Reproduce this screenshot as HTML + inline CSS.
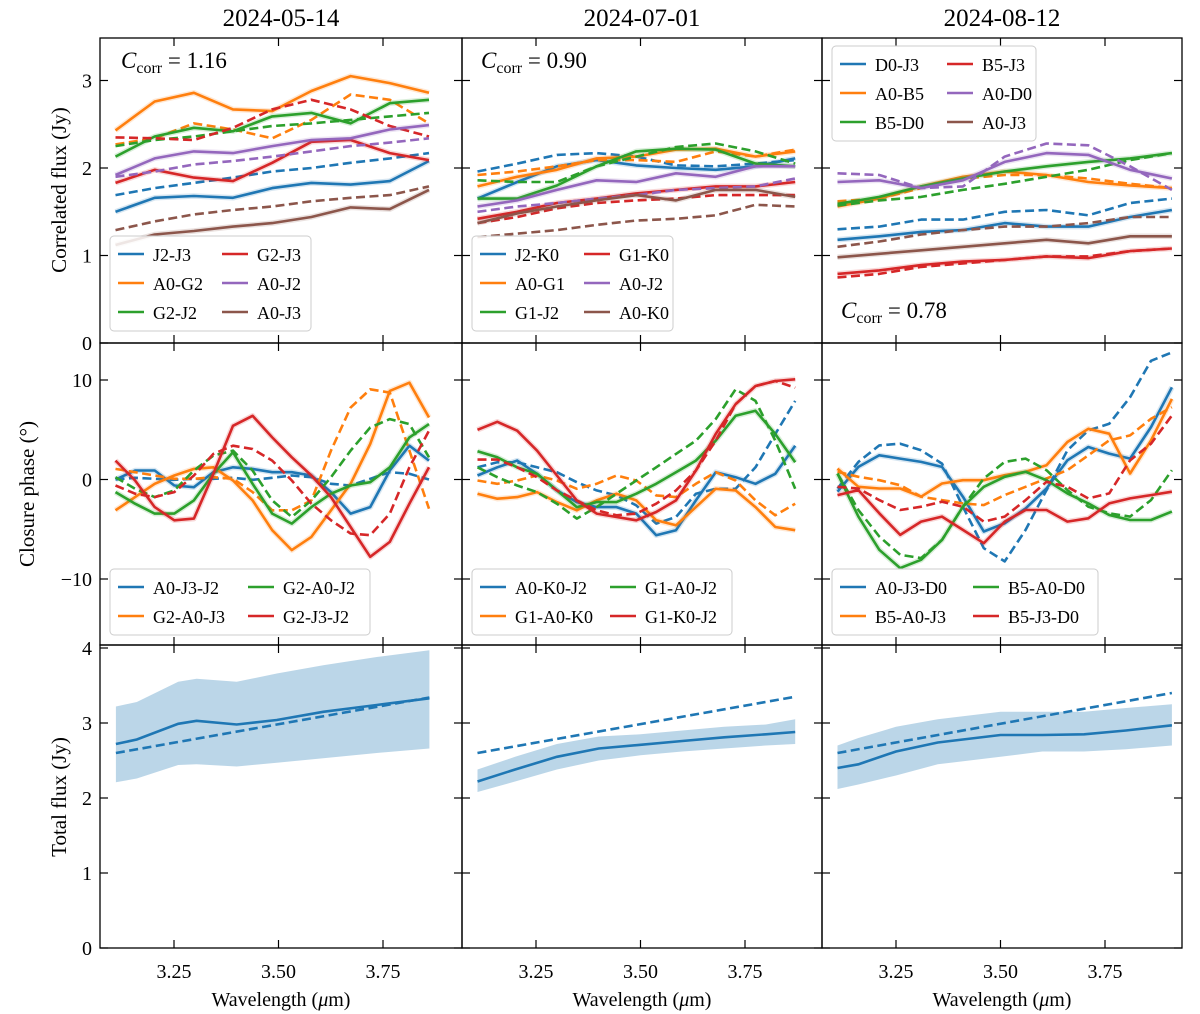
<!DOCTYPE html>
<html><head><meta charset="utf-8"><style>
html,body{margin:0;padding:0;background:#fff;}
svg{display:block;font-family:"Liberation Serif",serif;}
</style></head><body>
<svg id="fig" width="1200" height="1014" viewBox="0 0 1200 1014" xmlns="http://www.w3.org/2000/svg"></svg>
<script>
// ---------- DATA ----------
const dates = ["2024-05-14","2024-07-01","2024-08-12"];
const ccorr = ["1.16","0.90","0.78"];
const topTicks = [0,1,2,3];
const midTicks = [-10,0,10];
const botTicks = [0,1,2,3,4];
const xTicks = [3.25,3.50,3.75];
const xTickLabels = ["3.25","3.50","3.75"];
const lamEnd = [3.86,3.87,3.91];

// Correlated flux, col 1
const c1_J2J3 = [1.50,1.66,1.68,1.66,1.77,1.83,1.81,1.85,2.08];
const c1_J2J3_m = [1.69,1.77,1.83,1.89,1.96,2.00,2.06,2.11,2.17];
const c1_A0G2 = [2.43,2.76,2.86,2.67,2.65,2.88,3.05,2.97,2.86];
const c1_A0G2_m = [2.27,2.34,2.51,2.44,2.34,2.55,2.84,2.78,2.51];
const c1_G2J2 = [2.13,2.36,2.46,2.42,2.59,2.63,2.51,2.74,2.78];
const c1_G2J2_m = [2.25,2.32,2.36,2.42,2.48,2.51,2.55,2.59,2.63];
const c1_G2J3 = [1.83,1.98,1.89,1.85,2.06,2.30,2.32,2.17,2.09];
const c1_G2J3_m = [2.35,2.34,2.32,2.46,2.67,2.78,2.67,2.48,2.36];
const c1_A0J2 = [1.92,2.11,2.19,2.17,2.25,2.32,2.34,2.44,2.49];
const c1_A0J2_m = [1.90,1.96,2.04,2.08,2.13,2.19,2.25,2.29,2.34];
const c1_A0J3 = [1.12,1.24,1.28,1.33,1.37,1.44,1.55,1.53,1.75];
const c1_A0J3_m = [1.29,1.39,1.47,1.52,1.56,1.62,1.66,1.69,1.79];
// col 2
const c2_J2K0 = [1.65,1.84,2.02,2.09,2.03,2.00,1.98,2.02,2.11];
const c2_J2K0_m = [1.96,2.05,2.15,2.17,2.13,2.03,2.02,2.05,2.09];
const c2_A0G1 = [1.79,1.90,1.98,2.11,2.13,2.21,2.22,2.13,2.19];
const c2_A0G1_m = [1.92,1.96,2.02,2.09,2.09,2.07,2.19,2.13,2.21];
const c2_G1J2 = [1.65,1.65,1.80,2.02,2.19,2.22,2.21,2.05,2.02];
const c2_G1J2_m = [1.86,1.84,1.84,2.02,2.13,2.24,2.28,2.19,2.05];
const c2_G1K0 = [1.42,1.50,1.60,1.65,1.71,1.75,1.79,1.79,1.84];
const c2_G1K0_m = [1.37,1.44,1.54,1.60,1.63,1.65,1.69,1.69,1.69];
const c2_A0J2 = [1.56,1.63,1.75,1.86,1.84,1.94,1.90,2.02,2.02];
const c2_A0J2_m = [1.50,1.56,1.60,1.65,1.69,1.75,1.77,1.79,1.88];
const c2_A0K0 = [1.37,1.48,1.56,1.63,1.69,1.63,1.75,1.75,1.67];
const c2_A0K0_m = [1.21,1.25,1.29,1.35,1.40,1.42,1.46,1.58,1.56];
// col 3
const c3_D0J3 = [1.18,1.22,1.27,1.29,1.37,1.33,1.33,1.44,1.52];
const c3_D0J3_m = [1.30,1.33,1.41,1.41,1.50,1.52,1.46,1.60,1.65];
const c3_A0B5 = [1.56,1.65,1.79,1.90,1.96,1.92,1.84,1.80,1.77];
const c3_A0B5_m = [1.62,1.65,1.77,1.88,1.92,1.92,1.88,1.82,1.77];
const c3_B5D0 = [1.59,1.67,1.79,1.88,1.96,2.02,2.07,2.11,2.17];
const c3_B5D0_m = [1.57,1.63,1.67,1.75,1.82,1.90,1.98,2.09,2.17];
const c3_B5J3 = [0.79,0.83,0.89,0.93,0.95,0.99,0.97,1.05,1.08];
const c3_B5J3_m = [0.75,0.79,0.87,0.91,0.95,0.99,0.99,1.05,1.08];
const c3_A0D0 = [1.84,1.86,1.77,1.86,2.07,2.17,2.15,1.98,1.88];
const c3_A0D0_m = [1.94,1.92,1.77,1.79,2.13,2.28,2.26,2.02,1.75];
const c3_A0J3 = [0.98,1.02,1.06,1.10,1.14,1.18,1.14,1.22,1.22];
const c3_A0J3_m = [1.10,1.16,1.24,1.29,1.33,1.33,1.37,1.44,1.44];

// Closure phase, col 1
const p1_A0J3J2 = [0,0.9,0.9,-0.6,-0.77,0.73,1.23,1.07,0.73,0.73,0.4,-1.27,-3.43,-2.77,0.9,3.4,1.9];
const p1_A0J3J2_m = [0,0.17,0.07,-0.03,0.07,0.07,0.17,-0.03,0.17,0.4,0.23,-0.43,-0.6,0.07,0.73,0.57,0];
const p1_G2A0J3 = [-3.1,-1.77,-0.43,0.4,1.07,1.23,-0.1,-2.1,-5.1,-7.1,-5.77,-3.1,-0.43,3.57,8.9,9.73,6.23];
const p1_G2A0J3_m = [1.07,0.73,0.4,0.07,0.07,0.23,0.07,-1.27,-3.1,-3.1,-2.1,2.9,7.23,9.07,8.73,2.9,-2.93];
const p1_G2A0J2 = [-1.27,-2.43,-3.43,-3.43,-2.1,0.57,2.73,-0.43,-3.43,-4.43,-2.77,-1.43,-0.6,-0.27,1.23,4.23,5.57];
const p1_G2A0J2_m = [0.23,-0.93,-1.77,-1.1,0.9,2.4,2.9,0.9,-2.1,-3.77,-2.1,0.23,2.9,5.23,6.07,5.57,2.23];
const p1_G2J3J2 = [1.9,-0.1,-2.77,-4.1,-3.93,0.57,5.4,6.4,4.23,2.23,0.4,-1.77,-4.77,-7.77,-6.27,-2.43,1.23];
const p1_G2J3J2_m = [-0.6,-1.43,-1.77,-1.27,0.4,2.57,3.4,3.07,1.9,-0.1,-2.43,-4.1,-5.43,-5.6,-3.43,1.23,4.9];
// col 2
const p2_A0K0J2 = [0.4,1.23,1.9,0.57,-1.1,-2.27,-2.77,-2.77,-3.43,-5.6,-5.1,-2.1,0.73,0.23,-0.43,0.57,3.4];
const p2_A0K0J2_m = [1.23,1.73,1.73,1.23,0.73,-0.27,-1.1,-1.6,-2.6,-4.43,-3.77,-1.43,-0.93,-0.93,1.23,4.57,7.9];
const p2_G1A0K0 = [-1.43,-1.93,-1.77,-1.27,-2.27,-3.1,-2.1,-1.43,-2.1,-4.1,-4.6,-2.77,-0.93,-1.1,-2.77,-4.77,-5.1];
const p2_G1A0K0_m = [-0.1,-0.43,-0.1,0.4,-0.1,-0.93,-0.43,0.4,-0.1,-1.6,-1.77,-0.43,0.73,-0.1,-2.1,-3.6,-2.43];
const p2_G1A0J2 = [2.83,2.23,1.23,0.57,-1.1,-2.77,-2.27,-2.27,-1.43,-0.43,0.73,1.9,3.9,6.4,6.9,4.57,1.73];
const p2_G1A0J2_m = [1.23,0.23,-0.6,-1.27,-2.43,-3.93,-2.77,-1.43,-0.1,1.23,2.57,3.9,6.07,9.07,7.9,3.9,-0.93];
const p2_G1K0J2 = [5,5.8,4.9,2.9,0.4,-2.1,-3.43,-3.77,-4.1,-3.27,-2.1,0.9,4.57,7.57,9.4,9.9,10.07];
const p2_G1K0J2_m = [2,2,1.23,0.23,-1.1,-2.1,-3.1,-3.6,-3.43,-2.43,-1.1,0.9,3.9,7.57,9.4,9.9,9.23];
// col 3
const p3_A0J3D0 = [-1.23,1.27,2.43,2.1,1.77,1.27,-1.73,-5.23,-4.4,-2.9,-0.9,1.93,3.27,2.6,2.1,5.27,9.27];
const p3_A0J3D0_m = [-0.9,1.77,3.43,3.6,2.93,1.6,-2.73,-6.9,-8.23,-5.07,-1.07,2.93,4.93,5.6,8.27,11.93,12.77];
const p3_B5A0J3 = [1.1,-0.73,-0.9,-0.9,-1.73,-0.4,-0.07,-0.07,0.43,0.77,1.43,3.77,5.1,4.6,0.6,3.93,8.1];
const p3_B5A0J3_m = [0.77,0.27,-0.07,-0.57,-1.73,-2.07,-2.4,-2.57,-1.57,-0.73,0.1,0.93,2.43,3.93,4.43,6.1,7.27];
const p3_B5A0D0 = [0.6,-3.73,-7.07,-8.9,-8.07,-6.07,-2.73,-0.73,0.27,0.77,-0.07,-1.4,-2.4,-3.57,-4.07,-4.07,-3.23];
const p3_B5A0D0_m = [0.6,-3.07,-5.73,-7.57,-7.9,-6.07,-2.73,0.1,1.77,2.1,0.93,-1.07,-2.73,-3.4,-3.73,-2.07,0.93];
const p3_B5J3D0 = [-1.57,-1.07,-3.4,-5.57,-4.23,-3.73,-5.07,-6.4,-4.23,-3.07,-3.07,-4.23,-3.9,-2.4,-1.9,-1.57,-1.23];
const p3_B5J3D0_m = [-0.73,-0.9,-2.07,-3.07,-2.73,-2.23,-2.73,-4.23,-3.73,-2.07,-0.23,-0.73,-1.9,-1.4,1.93,3.6,6.43];

// Total flux
const t1_lam = [3.111,3.161,3.26,3.304,3.40,3.496,3.607,3.735,3.861];
const t1_flux = [2.72,2.78,2.99,3.03,2.98,3.04,3.15,3.24,3.33];
const t1_hi = [3.22,3.28,3.55,3.59,3.55,3.66,3.77,3.88,3.97];
const t1_lo = [2.21,2.26,2.44,2.45,2.42,2.47,2.53,2.60,2.66];
const t1_model = [2.60,3.34];
const t2_lam = [3.11,3.2,3.3,3.4,3.5,3.6,3.7,3.8,3.87];
const t2_flux = [2.22,2.38,2.55,2.66,2.71,2.76,2.81,2.85,2.88];
const t2_hi = [2.38,2.55,2.72,2.82,2.85,2.90,2.95,2.98,3.05];
const t2_lo = [2.08,2.22,2.38,2.50,2.57,2.62,2.66,2.70,2.72];
const t2_model = [2.60,3.35];
const t3_lam = [3.11,3.16,3.25,3.35,3.5,3.6,3.7,3.8,3.91];
const t3_flux = [2.40,2.45,2.62,2.74,2.84,2.84,2.85,2.90,2.97];
const t3_hi = [2.70,2.80,2.95,3.05,3.15,3.15,3.15,3.20,3.25];
const t3_lo = [2.12,2.18,2.30,2.45,2.55,2.62,2.62,2.65,2.70];
const t3_model = [2.60,3.40];

// ---------- LAYOUT ----------
const NS = "http://www.w3.org/2000/svg";
const svg = document.getElementById("fig");
const colX = [100,462,822];
const colW = [362,360,360];
const rowY = [38,343,645];
const rowH = [305,302,303];
const C = {blue:"#1f77b4",orange:"#ff7f0e",green:"#2ca02c",red:"#d62728",purple:"#9467bd",brown:"#8c564b"};
const LW = 2.6, DASH = "9,4.5";

function xs(col, lam){ return colX[col] + 74 + (lam - 3.25) * 418; }
function yTop(v){ return 343 - v * 87.5; }
function yMid(v){ return 479.5 - v * 9.95; }
function yBot(v){ return 948 - v * 75; }
function lamGrid(col, n){ const a=[]; for(let i=0;i<n;i++) a.push(3.11 + (lamEnd[col]-3.11)*i/(n-1)); return a; }

function mk(tag, attrs, parent){
  const e = document.createElementNS(NS, tag);
  for (const k in attrs) e.setAttribute(k, attrs[k]);
  (parent || svg).appendChild(e);
  return e;
}
function txt(x,y,s,size,anchor,name,extra){
  const t = mk("text",Object.assign({x:x,y:y,"font-size":size,"text-anchor":anchor||"middle",fill:"#000"},extra||{}));
  t.textContent = s;
  
  
  return t;
}
function drawLineIn(g, col, vals, yfn, color, dashed, name){
  const L = lamGrid(col, vals.length);
  const pts = vals.map((v,i)=> xs(col,L[i]).toFixed(1)+","+yfn(v).toFixed(1)).join(" ");
  if (!dashed){
    const halo = mk("polyline",{points:pts,fill:"none",stroke:color,"stroke-width":5.5,"stroke-opacity":0.18,"stroke-linejoin":"round"},g);
    
    
  }
  const p = mk("polyline",{points:pts,fill:"none",stroke:color,"stroke-width":LW,"stroke-linejoin":"round"},g);
  if (dashed) p.setAttribute("stroke-dasharray",DASH);
  
  
}

const defs = mk("defs",{});
for (let c=0;c<3;c++) for (let r=0;r<3;r++){
  const cp = mk("clipPath",{id:"cp"+c+r},defs);
  mk("rect",{x:colX[c],y:rowY[r],width:colW[c],height:rowH[r]},cp);
}

const topSeries = [
  [[c1_J2J3,c1_J2J3_m,"blue"],[c1_A0G2,c1_A0G2_m,"orange"],[c1_G2J2,c1_G2J2_m,"green"],[c1_G2J3,c1_G2J3_m,"red"],[c1_A0J2,c1_A0J2_m,"purple"],[c1_A0J3,c1_A0J3_m,"brown"]],
  [[c2_J2K0,c2_J2K0_m,"blue"],[c2_A0G1,c2_A0G1_m,"orange"],[c2_G1J2,c2_G1J2_m,"green"],[c2_G1K0,c2_G1K0_m,"red"],[c2_A0J2,c2_A0J2_m,"purple"],[c2_A0K0,c2_A0K0_m,"brown"]],
  [[c3_D0J3,c3_D0J3_m,"blue"],[c3_A0B5,c3_A0B5_m,"orange"],[c3_B5D0,c3_B5D0_m,"green"],[c3_B5J3,c3_B5J3_m,"red"],[c3_A0D0,c3_A0D0_m,"purple"],[c3_A0J3,c3_A0J3_m,"brown"]]
];
const topLabels = [
  ["J2-J3","A0-G2","G2-J2","G2-J3","A0-J2","A0-J3"],
  ["J2-K0","A0-G1","G1-J2","G1-K0","A0-J2","A0-K0"],
  ["D0-J3","A0-B5","B5-D0","B5-J3","A0-D0","A0-J3"]
];
const midSeries = [
  [[p1_A0J3J2,p1_A0J3J2_m,"blue"],[p1_G2A0J3,p1_G2A0J3_m,"orange"],[p1_G2A0J2,p1_G2A0J2_m,"green"],[p1_G2J3J2,p1_G2J3J2_m,"red"]],
  [[p2_A0K0J2,p2_A0K0J2_m,"blue"],[p2_G1A0K0,p2_G1A0K0_m,"orange"],[p2_G1A0J2,p2_G1A0J2_m,"green"],[p2_G1K0J2,p2_G1K0J2_m,"red"]],
  [[p3_A0J3D0,p3_A0J3D0_m,"blue"],[p3_B5A0J3,p3_B5A0J3_m,"orange"],[p3_B5A0D0,p3_B5A0D0_m,"green"],[p3_B5J3D0,p3_B5J3D0_m,"red"]]
];
const midLabels = [
  ["A0-J3-J2","G2-A0-J3","G2-A0-J2","G2-J3-J2"],
  ["A0-K0-J2","G1-A0-K0","G1-A0-J2","G1-K0-J2"],
  ["A0-J3-D0","B5-A0-J3","B5-A0-D0","B5-J3-D0"]
];
const tot = [[t1_lam,t1_flux,t1_hi,t1_lo,t1_model],[t2_lam,t2_flux,t2_hi,t2_lo,t2_model],[t3_lam,t3_flux,t3_hi,t3_lo,t3_model]];

for (let c=0;c<3;c++){
  const g0 = mk("g",{"clip-path":"url(#cp"+c+"0)"});
  
  
  topSeries[c].forEach((s,i)=>{
    drawLineIn(g0, c, s[1], yTop, C[s[2]], true, "model-"+topLabels[c][i].toLowerCase());
    drawLineIn(g0, c, s[0], yTop, C[s[2]], false, "flux-"+topLabels[c][i].toLowerCase());
  });
  const g1 = mk("g",{"clip-path":"url(#cp"+c+"1)"});
  
  
  midSeries[c].forEach((s,i)=>{
    drawLineIn(g1, c, s[0], yMid, C[s[2]], false, "phase-"+midLabels[c][i].toLowerCase());
    drawLineIn(g1, c, s[1], yMid, C[s[2]], true, "model-phase-"+midLabels[c][i].toLowerCase());
  });
  const T = tot[c];
  const g2 = mk("g",{"clip-path":"url(#cp"+c+"2)"});
  
  
  let bp = T[0].map((l,i)=> xs(c,l).toFixed(1)+","+yBot(T[2][i]).toFixed(1));
  for (let i=T[0].length-1;i>=0;i--) bp.push(xs(c,T[0][i]).toFixed(1)+","+yBot(T[3][i]).toFixed(1));
  const band = mk("polygon",{points:bp.join(" "),fill:"#1f77b4","fill-opacity":0.3,stroke:"none"},g2);
  
  
  const L = T[0];
  const ml = mk("line",{x1:xs(c,L[0]),y1:yBot(T[4][0]),x2:xs(c,L[L.length-1]),y2:yBot(T[4][1]),stroke:C.blue,"stroke-width":LW,"stroke-dasharray":DASH},g2);
  
  
  const sp = mk("polyline",{points:L.map((l,i)=>xs(c,l).toFixed(1)+","+yBot(T[1][i]).toFixed(1)).join(" "),fill:"none",stroke:C.blue,"stroke-width":LW},g2);
  
  
}

for (let c=0;c<3;c++){
  for (let r=0;r<3;r++){
    const fr = mk("rect",{x:colX[c],y:rowY[r],width:colW[c],height:rowH[r],fill:"none",stroke:"#000","stroke-width":1.3});
    
    
    xTicks.forEach(t=>{
      const x = xs(c,t);
      const a = mk("line",{x1:x,y1:rowY[r],x2:x,y2:rowY[r]+8,stroke:"#000","stroke-width":1.2});
      
      
      const b = mk("line",{x1:x,y1:rowY[r]+rowH[r],x2:x,y2:rowY[r]+rowH[r]-8,stroke:"#000","stroke-width":1.2});
      
      
    });
    const ticks = r===0?topTicks:(r===1?midTicks:botTicks);
    const yf = r===0?yTop:(r===1?yMid:yBot);
    ticks.forEach(t=>{
      const y = yf(t);
      const a = mk("line",{x1:colX[c],y1:y,x2:colX[c]+8,y2:y,stroke:"#000","stroke-width":1.2});
      
      
      const b = mk("line",{x1:colX[c]+colW[c],y1:y,x2:colX[c]+colW[c]-8,y2:y,stroke:"#000","stroke-width":1.2});
      
      
      if (c===0) txt(92, y+7, t<0?"\u2212"+(-t):String(t), 20, "end", "y-tick-label");
    });
  }
  xTickLabels.forEach((s,i)=> txt(xs(c,xTicks[i]), 978, s, 20, "middle", "x-tick-label"));
  txt(colX[c]+colW[c]/2, 1006, "Wavelength (", 20, "middle", "x-axis-title").innerHTML = "Wavelength (<tspan font-style='italic'>μ</tspan>m)";
  txt(colX[c]+colW[c]/2, 26, dates[c], 25, "middle", "column-title-"+dates[c]);
}
txt(0,0,"Correlated flux (Jy)",21,"middle","y-axis-title-correlated-flux",{transform:"translate(66,190) rotate(-90)"});
txt(0,0,"Closure phase (°)",21,"middle","y-axis-title-closure-phase",{transform:"translate(34,494) rotate(-90)"});
txt(0,0,"Total flux (Jy)",21,"middle","y-axis-title-total-flux",{transform:"translate(66,797) rotate(-90)"});

const cpos = [[121,68],[481,68],[841,318]];
for (let c=0;c<3;c++){
  const t = txt(cpos[c][0], cpos[c][1], "", 23, "start", "ccorr-label-"+(c+1));
  t.innerHTML = "<tspan font-style='italic'>C</tspan><tspan font-size='16' dy='5'>corr</tspan><tspan dy='-5'> = "+ccorr[c]+"</tspan>";
}

function legend(x,y,w,rows,labels,colors,lineW,col2off,name){
  const h = rows*29+8;
  const b = mk("rect",{x:x,y:y,width:w,height:h,rx:4,fill:"#fff","fill-opacity":0.85,stroke:"#ccc","stroke-width":1});
  
  
  labels.forEach((lab,i)=>{
    const col = i<rows?0:1, row = i%rows;
    const lx = x+8+col*col2off, ly = y+18+row*29;
    const l = mk("line",{x1:lx,y1:ly,x2:lx+lineW,y2:ly,stroke:colors[i],"stroke-width":2.6});
    
    
    txt(lx+lineW+9, ly+7, lab, 18, "start", "legend-entry-"+lab.toLowerCase());
  });
}
const topColors = [C.blue,C.orange,C.green,C.red,C.purple,C.brown];
const midColors = [C.blue,C.orange,C.green,C.red];
legend(110,236,201,3,topLabels[0],topColors,26,104,"legend-correlated-flux-1");
legend(472,236,201,3,topLabels[1],topColors,26,104,"legend-correlated-flux-2");
legend(832,46,204,3,topLabels[2],topColors,26,107,"legend-correlated-flux-3");
legend(110,569,260,2,midLabels[0],midColors,26,130,"legend-closure-phase-1");
legend(472,569,260,2,midLabels[1],midColors,26,130,"legend-closure-phase-2");
legend(832,569,266,2,midLabels[2],midColors,26,133,"legend-closure-phase-3");
</script>
</body></html>
